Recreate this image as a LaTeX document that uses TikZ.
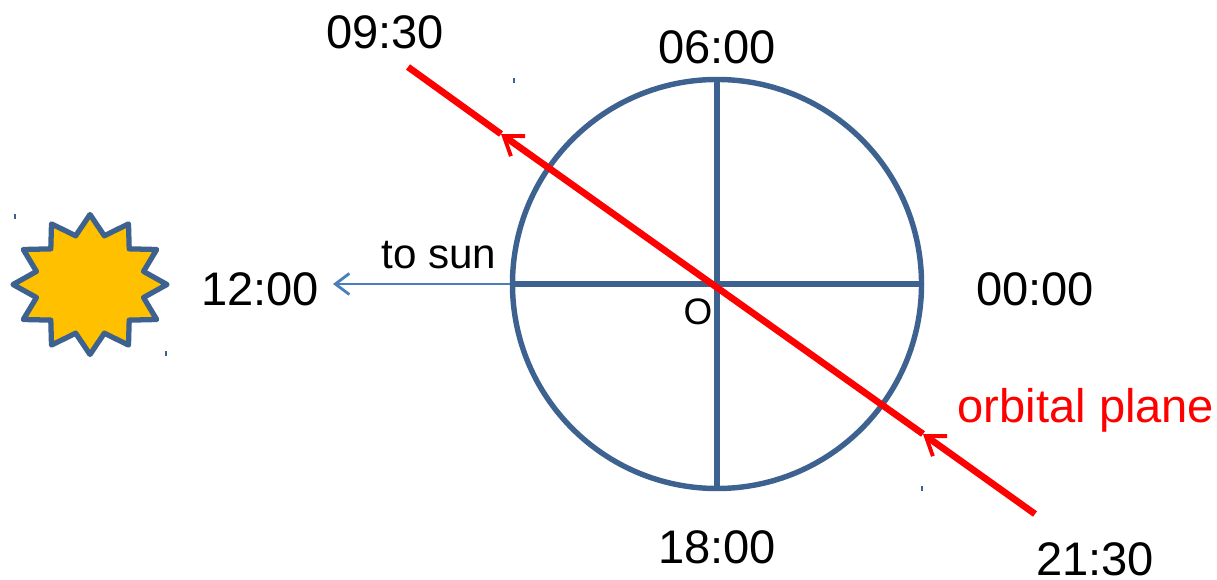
\documentclass[tikz,border=0pt]{standalone}
\usepackage{fontspec}
\setmainfont{Liberation Sans}
\usetikzlibrary{arrows.meta,positioning}
\definecolor{ringblue}{HTML}{3D6290}
\definecolor{sunblue}{HTML}{4A7EBB}
\definecolor{sunfill}{HTML}{FFC000}
\tikzset{
  hourlabel/.style={font=\fontsize{26.8}{30}\selectfont,inner sep=0pt},
  tosunlabel/.style={font=\fontsize{24}{26}\selectfont,inner sep=0pt},
  originlabel/.style={font=\fontsize{21}{24}\selectfont,inner sep=0pt},
  ringline/.style={draw=ringblue,line width=3.1pt},
  orbitline/.style={draw=red,line width=3.8pt},
  orbittip/.style={-{Straight Barb[length=10pt,width=14pt,line width=2.2pt]}},
  handle/.style={draw=ringblue,line width=0.8pt}
}
\begin{document}
\begin{tikzpicture}[x=0.02cm,y=-0.02cm,>=Latex]
\useasboundingbox (0,0) rectangle (1217,580);
% sun
\draw[ringline,fill=sunfill,line width=3pt,line join=round]
  plot[samples at={0,15,...,345}] ({90+77*(0.86+0.14*cos(12*\x))*sin(\x)},{284.5-70*(0.86+0.14*cos(12*\x))*cos(\x)}) -- cycle;
% left over selection marks
\draw[handle] (15,214) -- (15,219);
\draw[handle] (166,351) -- (166,356);
\draw[handle] (514,78) -- (514,83);
\draw[handle] (922,486) -- (922,491);
% dial
\coordinate (O) at (717,284);
\node[circle,ringline,minimum size=8.2cm-0.5pt,inner sep=0pt] (dial) at (O) {};
\draw[ringline] (dial.north) -- (dial.south);
\draw[ringline] (dial.west) -- (dial.east);
% labels
\node[hourlabel] (h06) at (717,47) {06:00};
\node[hourlabel] (h12) at (260,289) {12:00};
\node[hourlabel] (h00) at (1035,289) {00:00};
\node[hourlabel] (h18) at (717,547) {18:00};
\node[hourlabel] (h09) at (385,32) {09:30};
\node[hourlabel] (h21) at (1095,559) {21:30};
\node[tosunlabel] (tosun) at (439,255) {to sun};
\node[originlabel] (olabel) at (698,312) {O};
\node[hourlabel,text=red] (plane) at (1086,410) {orbital plane};
% to sun arrow
\coordinate (suntip) at (333,284);
\draw[draw=sunblue,line width=0.9pt,-{Straight Barb[length=8pt,width=12pt,line width=1.6pt]}] (dial.west) -- (suntip);
% orbit line, two barbs on it
\coordinate (start) at (1035,514);
\coordinate (tipa) at (923,434);
\coordinate (tipb) at (501,134);
\coordinate (end) at (408,67);
\draw[orbitline,orbittip] (start) -- (tipa);
\draw[orbitline,orbittip] (tipa) -- (tipb);
\draw[orbitline] (tipb) -- (end);
\end{tikzpicture}
\end{document}
